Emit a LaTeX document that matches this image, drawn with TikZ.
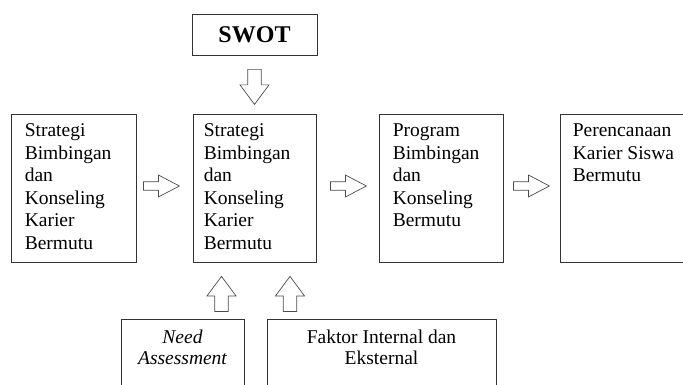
\documentclass[tikz,border=0pt]{standalone}
\usepackage{fontspec}
\setmainfont{Liberation Serif}
\usetikzlibrary{calc}
\begin{document}
\begin{tikzpicture}[x=1pt,y=-1pt,
  box/.style={draw=black!80, line width=0.8pt, inner sep=0pt},
  txt/.style={font=\fontsize{19.5}{22.5}\selectfont, inner sep=0pt, anchor=north west, align=left},
  ctxt/.style={font=\fontsize{19.5}{21.5}\selectfont, inner sep=0pt, anchor=north, align=center},
  blk/.style={draw=black!70, line width=0.7pt, fill=white, line join=miter},
  rarrow/.pic={\draw[blk] (0,-4.25) -- (15,-4.25) -- (15,-11) -- (36,0) -- (15,11) -- (15,4.25) -- (0,4.25) -- cycle;},
  varrow/.pic={\draw[blk] (0,-6.75) -- (15.5,-6.75) -- (15.5,-14.5) -- (35,0) -- (15.5,14.5) -- (15.5,6.75) -- (0,6.75) -- cycle;}
]
\useasboundingbox (0,0) rectangle (683,385);
\clip (0,0) rectangle (683,385);

% boxes
\node[box, minimum width=125pt, minimum height=41pt] (swot) at (254.5,34.5) {};
\node[font=\fontsize{24}{28}\selectfont\bfseries, inner sep=0pt] (swott) at (swot.center) {SWOT};

\node[box, minimum width=125pt, minimum height=148pt] (b1) at (73.5,188) {};
\node[box, minimum width=123pt, minimum height=148pt] (b2) at (254.5,188) {};
\node[box, minimum width=124pt, minimum height=148pt] (b3) at (441,188) {};
\node[box, minimum width=130pt, minimum height=148pt] (b4) at (625,188) {};

\node[txt] (t1) at ([xshift=14pt, yshift=-10pt]b1.north west) {Strategi\\Bimbingan\\dan\\Konseling\\Karier\\Bermutu};
\node[txt] (t2) at ([xshift=11pt, yshift=-10pt]b2.north west) {Strategi\\Bimbingan\\dan\\Konseling\\Karier\\Bermutu};
\node[txt] (t3) at ([xshift=14pt, yshift=-10pt]b3.north west) {Program\\Bimbingan\\dan\\Konseling\\Bermutu};
\node[txt] (t4) at ([xshift=13pt, yshift=-10pt]b4.north west) {Perencanaan\\Karier Siswa\\Bermutu};

\node[box, minimum width=123pt, minimum height=81pt] (need) at (182.5,359.5) {};
\node[box, minimum width=229pt, minimum height=81pt] (fak) at (381.5,359.5) {};
\node[ctxt] (needt) at ([yshift=-11pt]need.north) {\itshape Need\\\itshape Assessment};
\node[ctxt] (fakt) at ([yshift=-11pt]fak.north) {Faktor Internal dan\\Eksternal};

% block arrows
\pic[rotate=-90] at ($(swot.south)+(0,14)$) {varrow};
\pic at ($(b1.east)+(7,-2)$) {rarrow};
\pic at ($(b2.east)+(14,-2)$) {rarrow};
\pic at ($(b3.east)+(10,-2)$) {rarrow};
\pic[rotate=90] at ($(b2.south)+(-33,49)$) {varrow};
\pic[rotate=90] at ($(b2.south)+(35.5,49)$) {varrow};
\end{tikzpicture}
\end{document}
